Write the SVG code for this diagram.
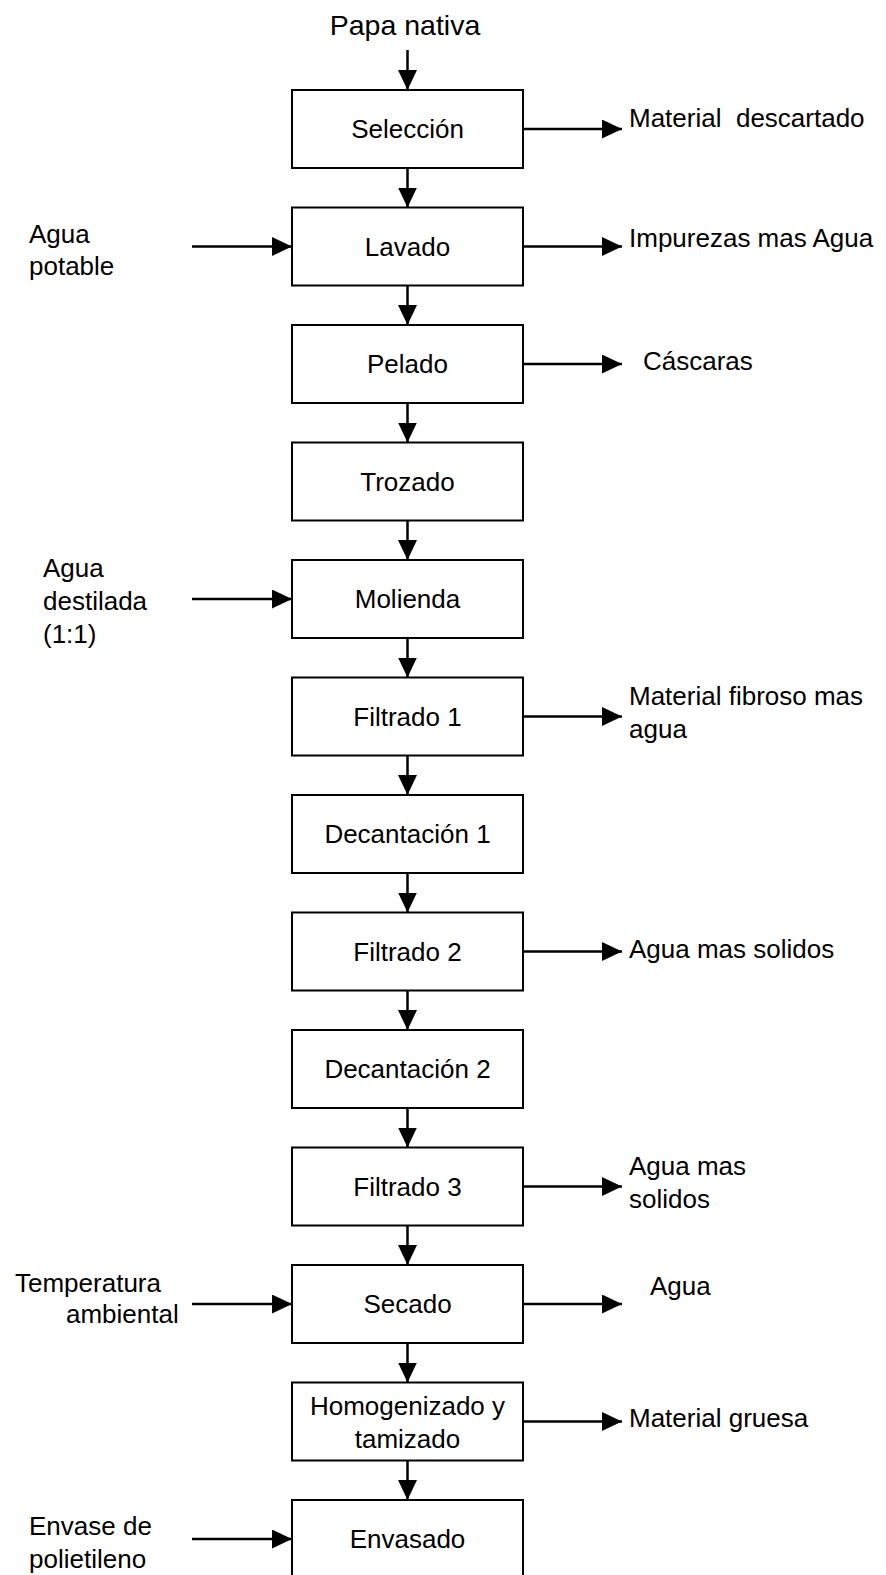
<svg xmlns="http://www.w3.org/2000/svg" width="886" height="1575" viewBox="0 0 886 1575">
<style>
text{font-family:"Liberation Sans",Arial,sans-serif;font-size:26px;fill:#000}
.c{text-anchor:middle}
.box{fill:#fff;stroke:#000;stroke-width:2}
.ln{stroke:#000;stroke-width:2.5;fill:none;marker-end:url(#ah)}
</style>
<defs>
<marker id="ah" markerUnits="userSpaceOnUse" markerWidth="21" markerHeight="19" refX="20" refY="9.5" orient="auto">
<path d="M0,0 L20,9.5 L0,19 Z" fill="#000"/>
</marker>
</defs>
<rect width="886" height="1575" fill="#fff"/>
<g id="connectors">
<line class="ln" x1="407.5" y1="50" x2="407.5" y2="90"/>
<line class="ln" x1="407.5" y1="168" x2="407.5" y2="207.5"/>
<line class="ln" x1="407.5" y1="285.5" x2="407.5" y2="325"/>
<line class="ln" x1="407.5" y1="403" x2="407.5" y2="442.5"/>
<line class="ln" x1="407.5" y1="520.5" x2="407.5" y2="560"/>
<line class="ln" x1="407.5" y1="638" x2="407.5" y2="677.5"/>
<line class="ln" x1="407.5" y1="755.5" x2="407.5" y2="795"/>
<line class="ln" x1="407.5" y1="873" x2="407.5" y2="912.5"/>
<line class="ln" x1="407.5" y1="990.5" x2="407.5" y2="1030"/>
<line class="ln" x1="407.5" y1="1108" x2="407.5" y2="1147.5"/>
<line class="ln" x1="407.5" y1="1225.5" x2="407.5" y2="1265"/>
<line class="ln" x1="407.5" y1="1343" x2="407.5" y2="1382.5"/>
<line class="ln" x1="407.5" y1="1460.5" x2="407.5" y2="1500"/>
<line class="ln" x1="523" y1="129" x2="622" y2="129"/>
<line class="ln" x1="523" y1="246.5" x2="622" y2="246.5"/>
<line class="ln" x1="523" y1="364" x2="622" y2="364"/>
<line class="ln" x1="523" y1="716.5" x2="622" y2="716.5"/>
<line class="ln" x1="523" y1="951.5" x2="622" y2="951.5"/>
<line class="ln" x1="523" y1="1186.5" x2="622" y2="1186.5"/>
<line class="ln" x1="523" y1="1304" x2="622" y2="1304"/>
<line class="ln" x1="523" y1="1421.5" x2="622" y2="1421.5"/>
<line class="ln" x1="192" y1="246.5" x2="292" y2="246.5"/>
<line class="ln" x1="192" y1="599" x2="292" y2="599"/>
<line class="ln" x1="192" y1="1304" x2="292" y2="1304"/>
<line class="ln" x1="192" y1="1539" x2="292" y2="1539"/>
</g>
<g id="n-input"><text class="c" x="405" y="35" style="font-size:28.5px">Papa nativa</text></g>
<g id="n-seleccion"><rect class="box" x="292" y="90" width="231" height="78"/><text class="c" x="407.5" y="138">Selección</text></g>
<g id="n-lavado"><rect class="box" x="292" y="207.5" width="231" height="78"/><text class="c" x="407.5" y="255.5">Lavado</text></g>
<g id="n-pelado"><rect class="box" x="292" y="325" width="231" height="78"/><text class="c" x="407.5" y="373">Pelado</text></g>
<g id="n-trozado"><rect class="box" x="292" y="442.5" width="231" height="78"/><text class="c" x="407.5" y="490.5">Trozado</text></g>
<g id="n-molienda"><rect class="box" x="292" y="560" width="231" height="78"/><text class="c" x="407.5" y="608">Molienda</text></g>
<g id="n-filtrado1"><rect class="box" x="292" y="677.5" width="231" height="78"/><text class="c" x="407.5" y="725.5">Filtrado 1</text></g>
<g id="n-decantacion1"><rect class="box" x="292" y="795" width="231" height="78"/><text class="c" x="407.5" y="843">Decantación 1</text></g>
<g id="n-filtrado2"><rect class="box" x="292" y="912.5" width="231" height="78"/><text class="c" x="407.5" y="960.5">Filtrado 2</text></g>
<g id="n-decantacion2"><rect class="box" x="292" y="1030" width="231" height="78"/><text class="c" x="407.5" y="1078">Decantación 2</text></g>
<g id="n-filtrado3"><rect class="box" x="292" y="1147.5" width="231" height="78"/><text class="c" x="407.5" y="1195.5">Filtrado 3</text></g>
<g id="n-secado"><rect class="box" x="292" y="1265" width="231" height="78"/><text class="c" x="407.5" y="1313">Secado</text></g>
<g id="n-homogenizado"><rect class="box" x="292" y="1382.5" width="231" height="78"/><text class="c" x="407.5" y="1415">Homogenizado y</text><text class="c" x="407.5" y="1448">tamizado</text></g>
<g id="n-envasado"><rect class="box" x="292" y="1500" width="231" height="78"/><text class="c" x="407.5" y="1548">Envasado</text></g>
<g id="labels-left">
<text x="29" y="243">Agua</text><text x="29" y="275">potable</text>
<text x="43" y="577">Agua</text><text x="43" y="610">destilada</text><text x="43" y="643">(1:1)</text>
<text x="15" y="1292">Temperatura</text><text x="66" y="1323">ambiental</text>
<text x="29" y="1535">Envase de</text><text x="29" y="1568">polietileno</text>
</g>
<g id="labels-right">
<text x="629" y="127" xml:space="preserve">Material  descartado</text>
<text x="629" y="247">Impurezas mas Agua</text>
<text x="643" y="370">Cáscaras</text>
<text x="629" y="705">Material fibroso mas</text><text x="629" y="738">agua</text>
<text x="629" y="958">Agua mas solidos</text>
<text x="629" y="1175">Agua mas</text><text x="629" y="1208">solidos</text>
<text x="650" y="1295">Agua</text>
<text x="629" y="1427">Material gruesa</text>
</g>
</svg>
